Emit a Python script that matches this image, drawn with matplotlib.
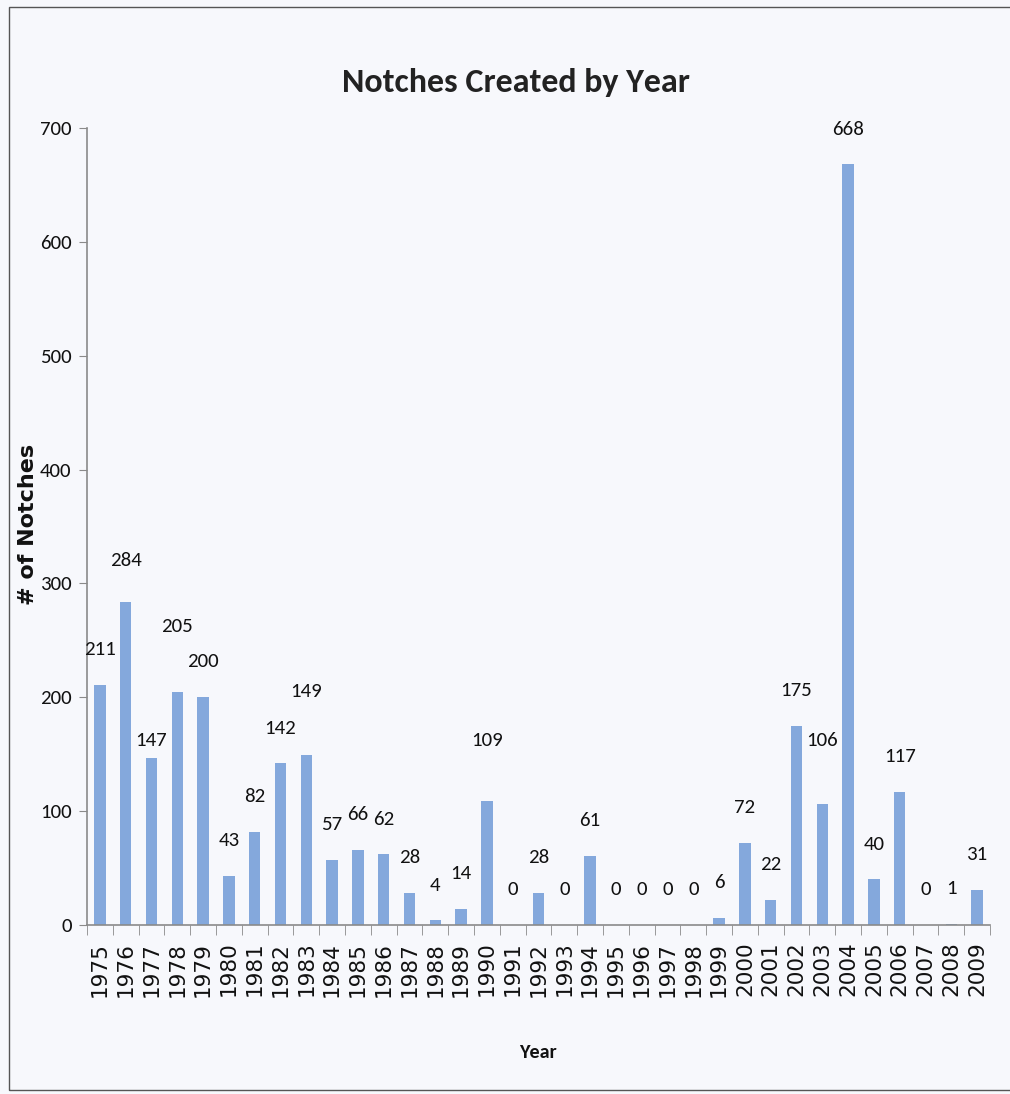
#!/usr/bin/python3
# Notches created per year, bar chart with value labels
import numpy as np
import matplotlib
matplotlib.use('Agg')
import matplotlib.pyplot as plt
from matplotlib import font_manager
from matplotlib.patches import Rectangle
from matplotlib.ticker import FixedLocator

# the data
years = list(range(1975, 2010))
notches = [211, 284, 147, 205, 200, 43, 82, 142, 149, 57,
           66, 62, 28, 4, 14, 109, 0, 28, 0, 61,
           0, 0, 0, 0, 6, 72, 22, 175, 106, 668,
           40, 117, 0, 1, 31]
y_ticks = [0, 100, 200, 300, 400, 500, 600, 700]

# a few labels were dragged away from their default spot
label_nudge = {1976: 5, 1977: -16, 1978: 26, 1983: 25, 1990: 22, 2003: 25}

BAR = '#84a8dc'
GREY = '#8a8a8a'


def pick_narrow():
    """first narrow (Calibri-like) family that is installed"""
    for fam in ('Carlito', 'Liberation Sans Narrow', 'Roboto Condensed',
                'Open Sans Condensed', 'Noto Sans Display'):
        try:
            font_manager.findfont(fam, fallback_to_default=False)
            return fam, True
        except ValueError:
            pass
    return 'DejaVu Sans', False


def main():
    narrow, found = pick_narrow()
    shrink = 1.0 if found else 0.8

    fig = plt.figure(figsize=(10.10, 10.94), dpi=100)
    fig.patch.set_facecolor('#f7f8fc')
    ax = fig.add_axes([0.0861, 0.1545, 0.8941, 0.7285])
    ax.set_facecolor('#f7f8fc')

    ind = np.arange(len(years))
    ax.bar(ind, notches, 0.44, color=BAR, zorder=2)

    # value labels above each bar
    for i, (yr, v) in enumerate(zip(years, notches)):
        ax.text(i, v + 31 + label_nudge.get(yr, 0), str(v), ha='center',
                va='center', fontsize=15 * shrink, family=narrow,
                color='#111111')

    ax.set_xlim(-0.5, len(years) - 0.5)
    ax.set_ylim(0, 700)

    # year labels at the centres, tick marks between categories
    ax.set_xticks(ind)
    ax.set_xticklabels([str(y) for y in years], rotation=90,
                       fontsize=15.5, family='DejaVu Sans', color='#111111')
    ax.tick_params(axis='x', which='major', length=0, pad=12)
    ax.xaxis.set_minor_locator(FixedLocator(np.arange(-0.5, len(years), 1.0)))
    ax.tick_params(axis='x', which='minor', length=7, color=GREY,
                   direction='out')

    ax.set_yticks(y_ticks)
    ax.set_yticklabels([str(t) for t in y_ticks], fontsize=15 * shrink,
                       family=narrow, color='#111111')
    ax.tick_params(axis='y', length=6, color=GREY, direction='out', pad=5)

    for side in ('top', 'right'):
        ax.spines[side].set_visible(False)
    for side in ('left', 'bottom'):
        ax.spines[side].set_color(GREY)
        ax.spines[side].set_linewidth(1.2)

    fig.text(0.5109, 0.925, 'Notches Created by Year', ha='center',
             va='center', fontsize=24.5 * shrink, fontweight='bold',
             family=narrow, color='#222222')
    fig.text(0.5327, 1 - 1053 / 1094, 'Year', ha='center', va='center',
             fontsize=14.5 * shrink, fontweight='bold', family=narrow,
             color='#111111')
    fig.text(0.028, 1 - 524 / 1094, '# of Notches', ha='center', va='center',
             rotation=90, fontsize=16, fontweight='bold',
             family='DejaVu Sans', color='#111111')

    # thin frame round the whole chart
    fig.patches.append(Rectangle((0.009, 0.0037), 1.0, 0.9899,
                                 transform=fig.transFigure, fill=False,
                                 edgecolor='#555555', linewidth=1.0))

    fig.savefig('out.png', dpi=100, facecolor=fig.get_facecolor())
    print("Graph created.")


if __name__ == "__main__":
    main()
